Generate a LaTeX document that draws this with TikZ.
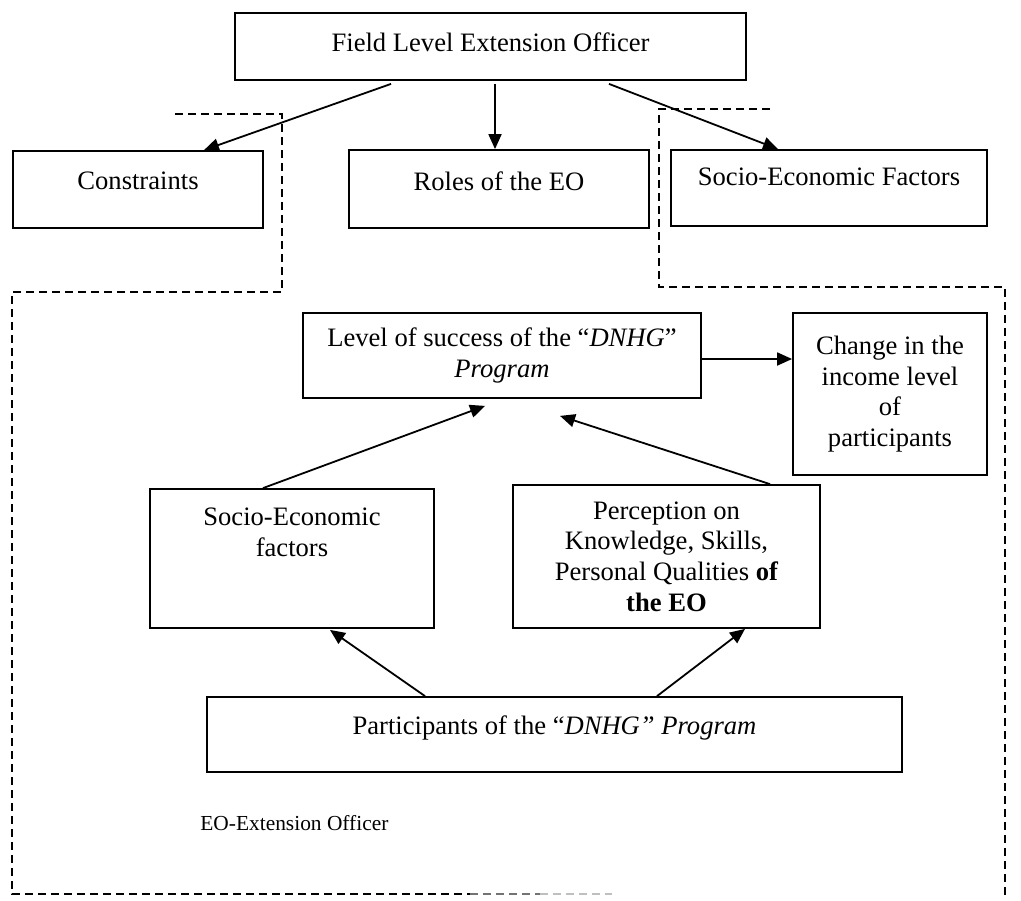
\documentclass[tikz,border=0pt]{standalone}
\usepackage{fontspec}
\setmainfont{Liberation Serif}
\usetikzlibrary{arrows.meta,calc}
\begin{document}
\begin{tikzpicture}[x=0.5pt,y=-0.5pt,
  box/.style={draw, line width=0.9pt, align=center, inner sep=0pt,
    font=\fontsize{13.3}{15.35}\selectfont},
  arr/.style={line width=0.9pt, -{Triangle[length=7.5pt,width=6.5pt]}},
  dsh/.style={line width=0.8pt, dash pattern=on 4pt off 2.5pt}]
\useasboundingbox (0,0) rectangle (1021,900);
% top row
\node[box, minimum width=255.75pt, minimum height=33.5pt, text depth=4.5pt] (top) at (490.5,46.5) {Field Level Extension Officer};
\node[box, minimum width=125pt, minimum height=38.5pt, text depth=8.5pt] (cons) at (138,189.5) {Constraints};
\node[box, minimum width=150pt, minimum height=39pt, text depth=8pt] (roles) at (499,189) {Roles of the EO};
\node[box, minimum width=158pt, minimum height=38pt, text depth=11pt] (sef) at (829,188) {Socio-Economic Factors};
% lower part
\node[box, minimum width=199pt, minimum height=42.5pt] (level) at (502,355.5) {Level of success of the ``\textit{DNHG}''\\\textit{Program}};
\node[box, minimum width=97pt, minimum height=81pt] (change) at (890,394) {Change in the\\income level\\of\\participants};
\node[box, minimum width=142pt, minimum height=69.5pt, text depth=26pt] (socio) at (292,558.5) {Socio-Economic\\factors};
\node[box, minimum width=153.5pt, minimum height=71.5pt] (perc) at (666.5,556.5) {Perception on\\Knowledge, Skills,\\Personal Qualities \textbf{of}\\\textbf{the EO}};
\node[box, minimum width=347.5pt, minimum height=37.5pt, text depth=9.5pt] (part) at (554.5,734.5) {Participants of the ``\textit{DNHG'' Program}};
\node[anchor=west, inner sep=0pt, font=\fontsize{10.7}{12.5}\selectfont] (eo) at (200,823) {EO-Extension Officer};
% arrows
\draw[arr] ($(top.south)+(-99.5,3)$) -- ($(cons.north)+(66,0)$);
\draw[arr] ($(top.south)+(4.5,3)$) -- ($(roles.north)+(-4,0)$);
\draw[arr] ($(top.south)+(118.5,3)$) -- ($(sef.north)+(-51,0)$);
\draw[arr] ($(level.east)+(0,3.5)$) -- ($(level.east -| change.west)+(0,3.5)$);
\draw[arr] ($(socio.north)+(-29,0)$) -- ($(level.south)+(-17,7)$);
\draw[arr] ($(perc.north)+(103.5,0)$) -- ($(level.south)+(58,17)$);
\draw[arr] ($(part.north)+(-129.5,0)$) -- ($(socio.south)+(38,1)$);
\draw[arr] ($(part.north)+(102.5,0)$) -- ($(perc.south)+(78.5,0)$);
% dashed outlines
\draw[dsh] (175,114) -- (282,114) -- (282,292) -- (12,292) -- (12,894) -- (470,894);
\draw[dsh, black!55] (470,894) -- (540,894);
\draw[dsh, black!25] (540,894) -- (612,894);
\draw[dsh] (770,109) -- (659,109) -- (659,287) -- (1005,287) -- (1005,895);
\end{tikzpicture}
\end{document}
